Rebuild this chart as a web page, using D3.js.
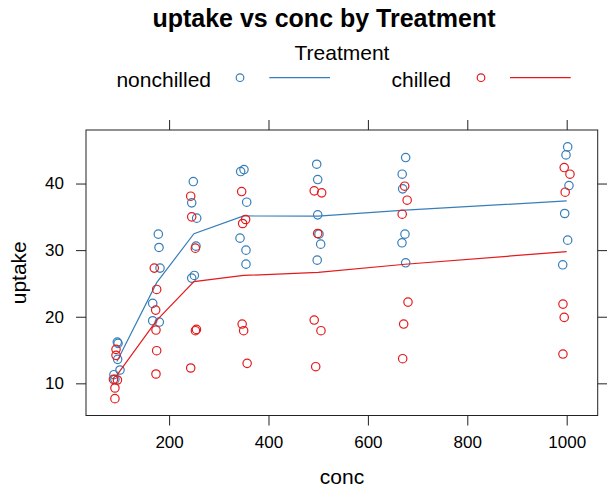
<!DOCTYPE html>
<html><head><meta charset="utf-8">
<script src="https://cdn.jsdelivr.net/npm/d3@7"></script>
<style>body{margin:0;background:#fff}svg{display:block}text{font-family:"Liberation Sans",Arial,Helvetica,sans-serif;fill:#000}</style>
</head><body>
<svg id="c" width="607" height="489"></svg>
<script>
// ---- data ----
const treatments = ["nonchilled", "chilled"];
const colors = ["#377EB8", "#E41A1C"];
const xTicks = [200, 400, 600, 800, 1000];
const yTicks = [10, 20, 30, 40];
// nominal concentration of each point (7 levels x 6 plants)
const nonchilledConc = [95,95,95,95,95,95, 175,175,175,175,175,175, 250,250,250,250,250,250, 350,350,350,350,350,350, 500,500,500,500,500,500, 675,675,675,675,675,675, 1000,1000,1000,1000,1000,1000];
// jittered x positions as drawn
const nonchilledJitter = [97.2,96.5,95.8,91,101.2,89, 179.7,181.7,178.3,180.3,167,167, 255.5,245.5,248.7,250.8,254.1,245.5, 356.1,344,350.7,354.7,342.7,354.7, 499,499,497,505,501.6,498, 670,669,676,674.6,668.6,676, 1004.6,998.6,1002,996,1002,992];
const nonchilledUptake = [16.0,13.6,16.2,10.6,12.0,11.3, 30.4,27.3,32.4,19.2,22.0,19.4, 34.8,37.1,40.3,26.2,30.6,25.8, 37.2,41.8,42.1,30.0,31.8,27.9, 35.3,40.6,42.9,30.9,32.4,28.5, 39.2,41.4,43.9,32.4,31.1,28.1, 39.7,44.3,45.5,35.5,31.5,27.8];
const chilledConc = nonchilledConc.slice();
const chilledJitter = [93.2,91,93.2,96,91,88, 175,170.2,173,175,173.6,173.6, 252.8,245.5,243.5,255,243.5,253, 354,346,348,347,357,350, 499,507,492,492,495,505.6, 669,679,674,680.7,670,672, 997,995,1006.6,992.5,992.5,995];
const chilledUptake = [14.2,9.3,15.1,10.5,7.7,10.6, 24.1,27.3,21.0,14.9,11.4,18.0, 30.3,35.0,38.1,18.1,12.3,17.9, 34.6,38.8,34.0,18.9,13.0,17.9, 32.5,38.6,38.9,19.5,12.5,17.9, 35.4,37.5,39.6,22.2,13.7,18.9, 38.7,42.4,41.4,21.9,14.4,19.9];

const groups = [
  {name: treatments[0], color: colors[0], conc: nonchilledConc, jx: nonchilledJitter, y: nonchilledUptake},
  {name: treatments[1], color: colors[1], conc: chilledConc, jx: chilledJitter, y: chilledUptake}
];

// ---- layout ----
const L = 86, R = 597.7, T = 130, B = 415.5;
const x = d3.scaleLinear().domain([32.8, 1062.4]).range([L, R]);
const y = d3.scaleLinear().domain([5.17, 48.04]).range([B, T]);
const svg = d3.select("#c");

// title
svg.append("text").attr("x", 324).attr("y", 27).attr("text-anchor", "middle")
  .style("font-size", "25px").style("font-weight", "bold").text("uptake vs conc by Treatment");

// legend
svg.append("text").attr("x", 342).attr("y", 60).attr("text-anchor", "middle")
  .style("font-size", "21px").text("Treatment");
const leg = [
  {tx: 211, cx: 240, l1: 269.3, l2: 330},
  {tx: 451, cx: 481, l1: 510, l2: 570.7}
];
groups.forEach((g, i) => {
  const p = leg[i];
  svg.append("text").attr("x", p.tx).attr("y", 86.5).attr("text-anchor", "end")
    .style("font-size", "21px").text(g.name);
  svg.append("circle").attr("cx", p.cx).attr("cy", 77.7).attr("r", 3.8)
    .attr("fill", "none").attr("stroke", g.color).attr("stroke-width", 1.2);
  svg.append("line").attr("x1", p.l1).attr("x2", p.l2).attr("y1", 77.7).attr("y2", 77.7)
    .attr("stroke", g.color).attr("stroke-width", 1.2);
});

// axes (ticks on all sides, labels left/bottom)
const axCol = "#222";
const gB = svg.append("g").attr("transform", `translate(0,${B})`)
  .call(d3.axisBottom(x).tickValues(xTicks).tickSize(10).tickPadding(10).tickFormat(d3.format("d")));
const gT = svg.append("g").attr("transform", `translate(0,${T})`)
  .call(d3.axisTop(x).tickValues(xTicks).tickSize(10).tickFormat(""));
const gL = svg.append("g").attr("transform", `translate(${L},0)`)
  .call(d3.axisLeft(y).tickValues(yTicks).tickSize(10).tickPadding(12));
const gR = svg.append("g").attr("transform", `translate(${R},0)`)
  .call(d3.axisRight(y).tickValues(yTicks).tickSize(10).tickFormat(""));
[gB, gT, gL, gR].forEach(g => {
  g.select(".domain").remove();
  g.selectAll(".tick line").attr("stroke", axCol).attr("stroke-width", 1);
  g.selectAll("text").style("font-size", "17px").style("font-family", '"Liberation Sans",Arial,sans-serif').attr("fill", "#000");
});
gB.selectAll("text").attr("dy", "0.71em");
svg.append("rect").attr("x", L).attr("y", T).attr("width", R - L).attr("height", B - T)
  .attr("fill", "none").attr("stroke", axCol).attr("stroke-width", 1);

// axis labels
svg.append("text").attr("x", 342).attr("y", 484).attr("text-anchor", "middle")
  .style("font-size", "21px").text("conc");
svg.append("text").attr("transform", `translate(26,${(T + B) / 2}) rotate(-90)`).attr("text-anchor", "middle")
  .style("font-size", "21px").text("uptake");

// points and average lines
const plot = svg.append("g");
groups.forEach(g => {
  const pts = g.y.map((v, i) => ({jx: g.jx[i], c: g.conc[i], v}));
  plot.append("g").selectAll("circle").data(pts).join("circle")
    .attr("cx", d => x(d.jx)).attr("cy", d => y(d.v)).attr("r", 4.2)
    .attr("fill", "none").attr("stroke", g.color).attr("stroke-width", 1.2);
  const means = Array.from(d3.rollup(pts, vs => d3.mean(vs, d => d.v), d => d.c))
    .sort((a, b) => a[0] - b[0]);
  plot.append("path").datum(means)
    .attr("d", d3.line().x(d => x(d[0])).y(d => y(d[1])))
    .attr("fill", "none").attr("stroke", g.color).attr("stroke-width", 1.2);
});
</script>
</body></html>
